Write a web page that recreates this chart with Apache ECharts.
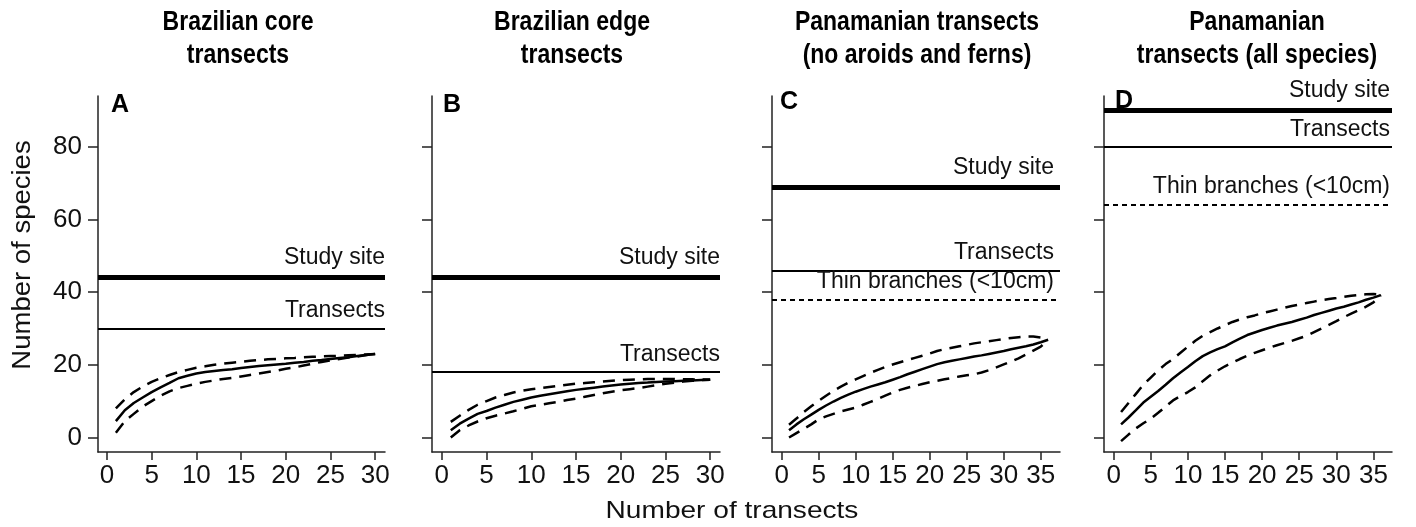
<!DOCTYPE html>
<html>
<head>
<meta charset="utf-8">
<script src="https://cdn.jsdelivr.net/npm/echarts@6/dist/echarts.min.js"></script>
<style>
  html, body { margin: 0; padding: 0; background: #fff; }
  #chart { width: 1416px; height: 527px; }
</style>
</head>
<body>
<div id="chart"></div>
<script>
// number of transects (x)
var transects30 = [1, 2, 3, 4, 5, 6, 7, 8, 9, 10, 11, 12, 13, 14, 15, 16, 17, 18, 19, 20, 21, 22, 23, 24, 25, 26, 27, 28, 29, 30];
var transects36 = [1, 2, 3, 4, 5, 6, 7, 8, 9, 10, 11, 12, 13, 14, 15, 16, 17, 18, 19, 20, 21, 22, 23, 24, 25, 26, 27, 28, 29, 30, 31, 32, 33, 34, 35, 36];

// A - Brazilian core
var coreMean = [4.5, 7.5, 9.5, 11, 12.5, 13.8, 15, 16.3, 17, 17.6, 18, 18.3, 18.6, 18.8, 19.1, 19.4, 19.7, 19.9, 20.1, 20.3, 20.6, 20.8, 21.1, 21.3, 21.6, 21.9, 22.1, 22.4, 22.7, 23];
var coreUpper = [8, 10.5, 12.5, 14, 15.3, 16.3, 17.2, 18, 18.6, 19.2, 19.6, 20, 20.3, 20.6, 20.8, 21.1, 21.3, 21.5, 21.6, 21.8, 21.9, 22.1, 22.2, 22.3, 22.4, 22.5, 22.6, 22.7, 22.85, 23];
var coreLower = [1.3, 4.5, 6.5, 8.5, 10, 11.5, 12.7, 13.6, 14.2, 14.8, 15.3, 15.7, 16.1, 16.4, 16.8, 17.2, 17.6, 18, 18.4, 18.9, 19.3, 19.8, 20.3, 20.8, 21.2, 21.6, 22, 22.3, 22.7, 23];

// B - Brazilian edge
var edgeMean = [2, 3.8, 5.2, 6.5, 7.3, 8.2, 9, 9.8, 10.4, 11, 11.5, 11.9, 12.3, 12.7, 13.1, 13.4, 13.7, 14, 14.3, 14.6, 14.8, 15, 15.1, 15.3, 15.4, 15.5, 15.6, 15.7, 15.8, 15.9];
var edgeUpper = [4.3, 6, 7.6, 9, 10, 11, 11.7, 12.4, 12.9, 13.3, 13.6, 13.9, 14.2, 14.5, 14.8, 15, 15.2, 15.4, 15.6, 15.8, 15.9, 16, 16.1, 16.1, 16.1, 16.1, 16, 16, 15.95, 15.9];
var edgeLower = [0, 2, 3.3, 4.4, 5.3, 6, 6.6, 7.2, 7.9, 8.6, 9, 9.4, 9.8, 10.3, 10.7, 11.2, 11.7, 12.2, 12.6, 13, 13.3, 13.6, 14, 14.4, 14.8, 15.1, 15.4, 15.6, 15.8, 15.9];

// C - Panama, no aroids and ferns
var panNoMean = [2, 3.6, 5, 6.3, 7.6, 8.8, 9.9, 10.9, 11.8, 12.6, 13.3, 14, 14.6, 15.2, 15.9, 16.6, 17.4, 18.1, 18.8, 19.5, 20.2, 20.7, 21.1, 21.5, 21.9, 22.3, 22.6, 23, 23.4, 23.8, 24.3, 24.7, 25.1, 25.6, 26.2, 26.9];
var panNoUpper = [3.5, 5.2, 7, 8.6, 10.1, 11.5, 12.8, 14, 15.1, 16, 16.9, 17.8, 18.6, 19.4, 20.1, 20.7, 21.3, 21.9, 22.5, 23.1, 23.8, 24.3, 24.7, 25.1, 25.5, 25.9, 26.2, 26.5, 26.8, 27.1, 27.4, 27.6, 27.8, 27.8, 27.5, 26.9];
var panNoLower = [0, 1.2, 2.4, 3.6, 5, 5.8, 6.5, 7.2, 7.7, 8.2, 9, 9.8, 10.6, 11.5, 12.4, 13.1, 13.7, 14.2, 14.7, 15.2, 15.6, 16, 16.4, 16.8, 17.1, 17.4, 17.9, 18.5, 19.3, 20.1, 20.9, 21.8, 22.8, 23.9, 25, 26.9];

// D - Panama, all species
var panAllMean = [3.6, 5.5, 7.5, 9.6, 11.2, 12.8, 14.5, 16.3, 17.9, 19.4, 21, 22.4, 23.4, 24.3, 25.1, 26.2, 27.2, 28.2, 28.9, 29.6, 30.2, 30.8, 31.3, 31.8, 32.4, 33, 33.7, 34.3, 34.9, 35.5, 36, 36.6, 37.2, 37.9, 38.5, 39.2];
var panAllUpper = [7, 9.5, 12, 14.5, 16.5, 18.5, 20.2, 21.6, 23.3, 25, 26.6, 28, 29, 30, 30.9, 31.8, 32.5, 33.1, 33.6, 34.2, 34.7, 35.2, 35.7, 36.2, 36.6, 37, 37.4, 37.8, 38.1, 38.4, 38.7, 39, 39.2, 39.4, 39.5, 39.3];
var panAllLower = [-1, 0.8, 2.5, 3.9, 5.2, 6.8, 8.5, 10.2, 11.4, 12.5, 13.8, 15.5, 17.1, 18.4, 19.6, 20.6, 21.6, 22.5, 23.3, 24, 24.7, 25.4, 26, 26.6, 27.3, 28, 29, 30, 31, 32, 33.1, 34.1, 35, 36, 37.2, 39.2];

// reference levels: [study site, transects, thin branches]
var refA = [44, 30];
var refB = [44, 18];
var refC = [69, 46, 38];
var refD = [90, 80, 64.2];

var xTicks30 = [0, 5, 10, 15, 20, 25, 30];
var xTicks35 = [0, 5, 10, 15, 20, 25, 30, 35];
var yTicks = [0, 20, 40, 60, 80];

var titles = ['Brazilian core\ntransects', 'Brazilian edge\ntransects',
  'Panamanian transects\n(no aroids and ferns)', 'Panamanian\ntransects (all species)'];
var letters = ['A', 'B', 'C', 'D'];

var font = "'Liberation Sans', Arial, sans-serif";

var panels = [
  { left: 98, width: 287, xmin: -1, xmax: 31.1, x: transects30, ticks: xTicks30, mean: coreMean, upper: coreUpper, lower: coreLower, ref: refA, center: 238, lx: 106, ly: 88, dx: 0 },
  { left: 432, width: 288, xmin: -1.1, xmax: 31.1, x: transects30, ticks: xTicks30, mean: edgeMean, upper: edgeUpper, lower: edgeLower, ref: refB, center: 572, lx: 438, ly: 88, dx: 0 },
  { left: 772, width: 288, xmin: -1.3, xmax: 37.6, x: transects36, ticks: xTicks35, mean: panNoMean, upper: panNoUpper, lower: panNoLower, ref: refC, center: 917, lx: 775, ly: 85, dx: 6 },
  { left: 1104, width: 288, xmin: -1.3, xmax: 37.5, x: transects36, ticks: xTicks35, mean: panAllMean, upper: panAllUpper, lower: panAllLower, ref: refD, center: 1257, lx: 1110, ly: 84, dx: 2 }
];

function pairs(xs, ys) {
  return xs.map(function (x, i) { return [x, ys[i]]; });
}

var refNames = ['Study site', 'Transects', 'Thin branches (<10cm)'];
var refStyles = [
  { width: 5, type: 'solid', dist: 8 },
  { width: 2, type: 'solid', dist: 6 },
  { width: 2, type: [5, 4], dist: 6 }
];

var grid = [], xAxis = [], yAxis = [], series = [], title = [], graphic = [];

panels.forEach(function (p, i) {
  grid.push({ left: p.left, top: 96, width: p.width, height: 356 });

  xAxis.push({
    type: 'value', gridIndex: i, min: p.xmin, max: p.xmax,
    splitLine: { show: false },
    axisLine: { show: true, onZero: false, lineStyle: { color: '#222', width: 1.5 } },
    axisTick: { show: true, length: 8, customValues: p.ticks, lineStyle: { color: '#222', width: 1.5 } },
    axisLabel: { show: true, customValues: p.ticks, margin: 11, color: '#111', fontSize: 26, fontFamily: font }
  });

  yAxis.push({
    type: 'value', gridIndex: i, min: -4, max: 94,
    splitLine: { show: false },
    axisLine: { show: true, onZero: false, lineStyle: { color: '#222', width: 1.5 } },
    axisTick: { show: true, length: 10, customValues: yTicks, lineStyle: { color: '#222', width: 1.5 } },
    axisLabel: { show: i === 0, customValues: yTicks, margin: 16, color: '#111', fontSize: 26, fontFamily: font }
  });

  var marks = p.ref.map(function (v, k) {
    var st = refStyles[k];
    return {
      yAxis: v,
      lineStyle: { color: '#000', width: st.width, type: st.type },
      label: {
        show: true, formatter: refNames[k], position: 'insideEndTop',
        distance: [p.dx, st.dist], color: '#111', fontSize: 23, fontFamily: font
      }
    };
  });

  series.push({
    type: 'line', xAxisIndex: i, yAxisIndex: i, showSymbol: false, silent: true,
    data: pairs(p.x, p.mean),
    lineStyle: { color: '#000', width: 2.5 },
    markLine: { silent: true, symbol: 'none', animation: false, data: marks }
  });
  series.push({
    type: 'line', xAxisIndex: i, yAxisIndex: i, showSymbol: false, silent: true,
    data: pairs(p.x, p.upper),
    lineStyle: { color: '#000', width: 2.5, type: [12, 8] }
  });
  series.push({
    type: 'line', xAxisIndex: i, yAxisIndex: i, showSymbol: false, silent: true,
    data: pairs(p.x, p.lower),
    lineStyle: { color: '#000', width: 2.5, type: [12, 8] }
  });

  // panel title, stretched a little in height like the original
  graphic.push({
    type: 'text', x: p.center, y: 6, scaleY: 1.2,
    style: {
      text: titles[i], fontFamily: font, fontWeight: 'bold', fontSize: 23, lineHeight: 27.5,
      fill: '#000', align: 'center', verticalAlign: 'top'
    }
  });
  title.push({
    text: letters[i], left: p.lx, top: p.ly,
    textStyle: { fontFamily: font, fontWeight: 'bold', fontSize: 25, color: '#000' }
  });
});

graphic.push({
  type: 'text', x: 23, y: 255, rotation: Math.PI / 2, scaleX: 1.1,
  style: { text: 'Number of species', fontFamily: font, fontSize: 25, fill: '#111', align: 'center', verticalAlign: 'middle' }
});
graphic.push({
  type: 'text', x: 732, y: 511, scaleX: 1.17,
  style: { text: 'Number of transects', fontFamily: font, fontSize: 24, fill: '#111', align: 'center', verticalAlign: 'middle' }
});

var chart = echarts.init(document.getElementById('chart'), null, { renderer: 'canvas' });
chart.setOption({
  animation: false,
  backgroundColor: '#fff',
  title: title,
  grid: grid,
  xAxis: xAxis,
  yAxis: yAxis,
  series: series,
  graphic: graphic
});
</script>
</body>
</html>
